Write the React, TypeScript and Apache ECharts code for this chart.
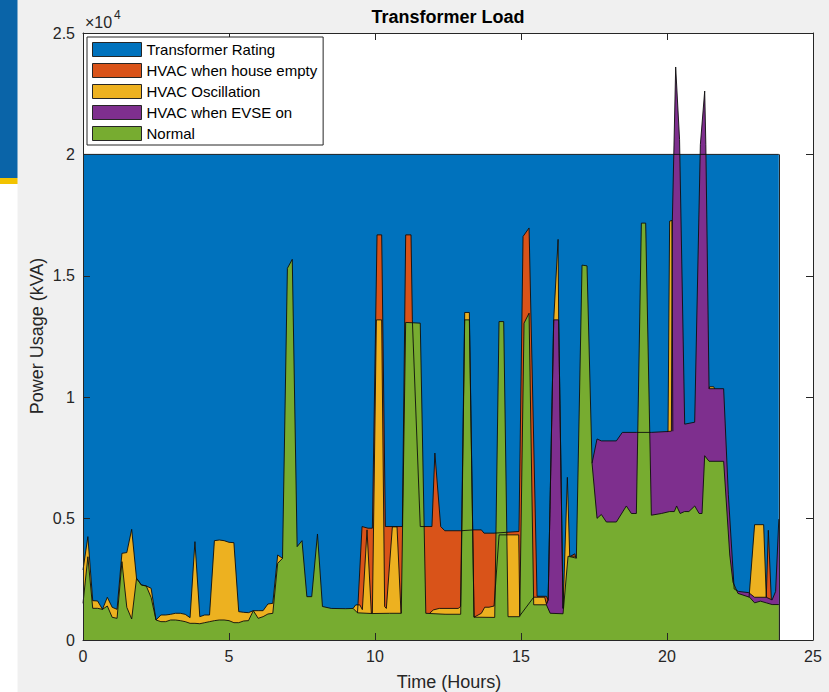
import React, { useEffect, useRef } from "react";
import * as echarts from "echarts";

type Pt = [number, number] | null;

// Series names & colours (legend order)
const seriesNames = [
  "Transformer Rating",
  "HVAC when house empty",
  "HVAC Oscillation",
  "HVAC when EVSE on",
  "Normal",
];
const seriesColors = ["#0072BD", "#D95319", "#EDB120", "#7E2F8E", "#77AC30"];

// Axis ticks
const xMin = 0, xMax = 25, xStep = 5;
const yMin = 0, yMax = 25000, yStep = 5000;
const yScale = 10000; // tick labels are shown in units of 10^4

// [time (hours), power (kVA)]; null separates segments
const ratingData: Pt[] = [[0, 20000], [23.83, 20000]];

const emptyData: Pt[] = [
  [9.4, 1120], [9.419, 1500], [9.556, 4673], [9.761, 4604], [9.91, 4604], [10.07, 16686], [10.229, 16686],
  [10.355, 4673], [10.937, 4673], [11.051, 16686], [11.234, 16686], [11.279, 13185], [11.55, 4673], [11.95, 4673],
  [12.05, 7700], [12.25, 4673], [12.39, 4500], [12.935, 4500], [13.392, 4535], [13.643, 4535], [13.735, 4400],
  [14.077, 4400], [14.93, 4470], [15.07, 16620], [15.276, 16970], [15.55, 1800], [15.87, 1800], [15.93, 1650],
  null,
  [16.7, 3450], [16.84, 3550], [16.88, 3400],
  null,
  [23.4, 1760], [23.47, 4520], [23.573, 1660],
];

const oscData: Pt[] = [
  [0, 2884], [0.167, 4257], [0.333, 1620], [0.5, 1607], [0.667, 1263], [0.833, 1760], [1, 1346], [1.167, 1263],
  [1.333, 3570], [1.5, 3600], [1.667, 4559], [1.833, 2540], [2, 2266], [2.167, 2225], [2.333, 2130], [2.5, 824],
  [2.667, 1030], [2.833, 1030], [3, 1057], [3.167, 1100], [3.333, 1100], [3.5, 1057], [3.667, 920], [3.833, 4050],
  [4, 960], [4.167, 1030], [4.333, 1030], [4.5, 4091], [4.667, 4118], [4.833, 4091], [5, 4023], [5.167, 4009],
  [5.333, 1167], [5.5, 1140], [5.667, 1126], [5.833, 1208], [6, 1208], [6.167, 1208], [6.333, 1483], [6.5, 1510],
  [6.667, 3500], [6.833, 3364],
  null,
  [9.25, 1300], [9.34, 1446], [9.48, 1446], [9.567, 1250], [9.727, 4535], [9.875, 1103], [9.91, 1103],
  [10.047, 13185], [10.229, 13185], [10.33, 1377], [10.389, 1300], [10.594, 4660], [10.754, 4660], [10.891, 1100],
  null,
  [11.87, 1100], [12, 1240], [12.2, 1300], [12.85, 1300], [12.93, 1380], [13.072, 13490], [13.232, 13490],
  [13.392, 940], [13.643, 1100], [13.757, 1350], [13.906, 1350], [14.077, 1400], [14.25, 4330], [14.922, 4330],
  [14.96, 1000], [15.435, 1762], [15.812, 1762], [15.869, 1490], [15.93, 1650], [16.12, 13185], [16.27, 16500],
  [16.29, 13185], [16.44, 1300], [16.588, 6700], [16.668, 3450], [16.84, 3450], [16.9, 3370],
  null,
  [19.98, 8585], [20.035, 8585], [20.09, 17250], [20.17, 17280], [20.2, 8600],
  null,
  [21.44, 10350], [21.46, 10430], [21.6, 10430], [21.63, 10350],
  null,
  [22.81, 1760], [23, 4750], [23.31, 4750], [23.4, 1760],
];

const evseData: Pt[] = [
  [15.87, 1450], [15.93, 1650], [16.12, 13185], [16.29, 13185], [16.44, 1300], [16.46, 1300],
  null,
  [17.433, 7280], [17.604, 8280], [17.752, 8200], [18.266, 8200], [18.47, 8550], [18.951, 8550], [19.464, 8550],
  [19.98, 8585], [20.15, 8600], [20.183, 17250], [20.297, 23600], [20.43, 20620], [20.606, 8890], [20.948, 8970],
  [21.142, 20400], [21.291, 22610], [21.33, 20400], [21.44, 10350], [21.94, 10350], [22.1, 6000], [22.3, 2100],
  [22.45, 2000], [22.8, 1950], [23, 1760], [23.4, 1760], [23.6, 1650], [23.72, 2000], [23.83, 4980],
];

const normalData: Pt[] = [
  [0, 1510], [0.167, 3430], [0.333, 1305], [0.5, 1305], [0.667, 1263], [0.833, 1400], [1, 934], [1.167, 893],
  [1.333, 3227], [1.5, 1346], [1.667, 865], [1.833, 2540], [2, 2266], [2.167, 2225], [2.333, 1750], [2.5, 824],
  [2.667, 756], [2.833, 756], [3, 824], [3.167, 824], [3.333, 797], [3.5, 756], [3.667, 687], [3.833, 687],
  [4, 670], [4.167, 714], [4.333, 755], [4.5, 797], [4.667, 824], [4.833, 824], [5, 797], [5.167, 714],
  [5.333, 714], [5.5, 783], [5.667, 797], [5.833, 1208], [6, 893], [6.167, 961], [6.333, 1071], [6.5, 1098],
  [6.667, 3158], [6.833, 3364], [7, 15309], [7.167, 15680], [7.333, 3844], [7.5, 4091], [7.667, 1785],
  [7.833, 1785], [8.03, 4366], [8.2, 1380], [8.5, 1300], [9, 1290], [9.25, 1300], [9.4, 1120], [9.9, 1090],
  [10.5, 1100], [10.9, 1100], [11.05, 13080], [11.55, 13050], [11.74, 1100], [12.4, 1060], [12.935, 1060],
  [13.072, 13185], [13.232, 13185], [13.392, 940], [14.1, 930], [14.248, 13115], [14.408, 13115], [14.556, 960],
  [14.956, 960], [15.104, 13050], [15.276, 13460], [15.435, 1450], [15.87, 1450], [16, 1100], [16.44, 1080],
  [16.611, 3450], [16.896, 3370], [17.09, 15440], [17.261, 15410], [17.433, 7280], [17.604, 5010], [17.752, 5170],
  [17.923, 4860], [18.266, 4860], [18.608, 5520], [18.78, 5210], [18.951, 5210], [19.122, 17170], [19.27, 17170],
  [19.464, 5140], [19.807, 5210], [20.092, 5290], [20.25, 5290], [20.33, 5520], [20.45, 5210], [20.6, 5290],
  [20.75, 5290], [20.95, 5520], [21.1, 5210], [21.2, 5210], [21.29, 7590], [21.44, 7360], [21.94, 7360],
  [22.15, 3500], [22.26, 2380], [22.43, 1920], [22.83, 1760], [23, 1530], [23.2, 1600], [23.4, 1530],
  [23.6, 1460], [23.83, 1460],
];

const FONT = "'Liberation Sans', Arial, Helvetica, sans-serif";
const AXIS_COLOR = "#262626";
const EDGE_COLOR = "#0d0d0d";
const EDGE_WIDTH = 1;

function toData(pts: Pt[]) {
  const out: any[] = [];
  let lastX = 0;
  for (const p of pts) {
    if (p === null) {
      out.push([lastX, "-"]);
    } else {
      out.push([p[0], p[1]]);
      lastX = p[0];
    }
  }
  return out;
}

function areaSeries(name: string, color: string, pts: Pt[], extra: any = {}) {
  return {
    type: "line",
    name,
    data: toData(pts),
    xAxisIndex: 0,
    yAxisIndex: 0,
    symbol: "none",
    showSymbol: false,
    connectNulls: false,
    smooth: false,
    silent: true,
    z: 2,
    lineStyle: { color: EDGE_COLOR, width: EDGE_WIDTH, opacity: 0.9 },
    itemStyle: { color },
    areaStyle: { color, opacity: 1 },
    emphasis: { disabled: true },
    ...extra,
  };
}

function axisCommon(show: boolean) {
  return {
    axisLine: { show: true, onZero: false, lineStyle: { color: AXIS_COLOR, width: 1 } },
    axisTick: { show: true, inside: true, length: 7, lineStyle: { color: AXIS_COLOR, width: 1 } },
    splitLine: { show: false },
    z: 10,
    axisLabel: show
      ? { show: true, color: AXIS_COLOR, fontSize: 16, fontFamily: FONT, margin: 8 }
      : { show: false },
  };
}

export default function App() {
  const ref = useRef<HTMLDivElement>(null);

  useEffect(() => {
    document.body.style.margin = "0";
    if (!ref.current) return;
    const chart = echarts.init(ref.current, undefined, { renderer: "svg" });

    const option: any = {
      animation: false,
      backgroundColor: "#f0f0f0",
      grid: {
        show: true,
        left: 83,
        right: 16,
        top: 33,
        bottom: 52,
        backgroundColor: "#ffffff",
        borderWidth: 0,
        containLabel: false,
      },
      xAxis: [
        { type: "value", position: "bottom", min: xMin, max: xMax, interval: xStep, ...axisCommon(true) },
        { type: "value", position: "top", min: xMin, max: xMax, interval: xStep, ...axisCommon(false) },
      ],
      yAxis: [
        {
          type: "value",
          position: "left",
          min: yMin,
          max: yMax,
          interval: yStep,
          ...axisCommon(true),
          axisLabel: {
            show: true,
            color: AXIS_COLOR,
            fontSize: 16,
            fontFamily: FONT,
            margin: 8,
            formatter: (v: number) => String(v / yScale),
          },
        },
        { type: "value", position: "right", min: yMin, max: yMax, interval: yStep, ...axisCommon(false) },
      ],
      legend: {
        left: 87,
        top: 37,
        orient: "vertical",
        itemWidth: 49,
        itemHeight: 14,
        itemGap: 6,
        padding: [5, 6, 4, 5],
        backgroundColor: "#ffffff",
        borderColor: AXIS_COLOR,
        borderWidth: 1,
        borderRadius: 0,
        selectedMode: false,
        icon: "rect",
        z: 20,
        textStyle: { fontSize: 15, color: "#000000", fontFamily: FONT },
        data: seriesNames.map((n, i) => ({
          name: n,
          icon: "rect",
          itemStyle: { color: seriesColors[i], borderColor: AXIS_COLOR, borderWidth: 1 },
        })),
      },
      series: [
        areaSeries(seriesNames[0], seriesColors[0], ratingData, {
          markLine: {
            silent: true,
            symbol: ["none", "none"],
            label: { show: false },
            lineStyle: { color: EDGE_COLOR, width: EDGE_WIDTH, type: "solid", opacity: 0.9 },
            emphasis: { disabled: true },
            data: [
              [
                { coord: [ratingData[1]![0], 0] },
                { coord: [ratingData[1]![0], ratingData[1]![1]] },
              ],
            ],
          },
        }),
        areaSeries(seriesNames[1], seriesColors[1], emptyData),
        areaSeries(seriesNames[2], seriesColors[2], oscData),
        areaSeries(seriesNames[3], seriesColors[3], evseData),
        areaSeries(seriesNames[4], seriesColors[4], normalData),
      ],
      graphic: [
        { type: "rect", shape: { x: 0, y: 0, width: 17.5, height: 178 }, style: { fill: "#0a64a8" }, silent: true },
        { type: "rect", shape: { x: 0, y: 178, width: 17.5, height: 6 }, style: { fill: "#f2c300" }, silent: true },
        { type: "rect", shape: { x: 0, y: 184, width: 17.5, height: 508 }, style: { fill: "#ffffff" }, silent: true },
        {
          type: "text",
          x: 448,
          y: 17,
          silent: true,
          style: {
            text: "Transformer Load",
            font: `bold 18px ${FONT}`,
            fill: "#000000",
            align: "center",
            verticalAlign: "middle",
          },
        },
        {
          type: "text",
          x: 449,
          y: 682,
          silent: true,
          style: {
            text: "Time (Hours)",
            font: `18px ${FONT}`,
            fill: AXIS_COLOR,
            align: "center",
            verticalAlign: "middle",
          },
        },
        {
          type: "text",
          x: 37,
          y: 336,
          rotation: Math.PI / 2,
          silent: true,
          style: {
            text: "Power Usage (kVA)",
            font: `18px ${FONT}`,
            fill: AXIS_COLOR,
            align: "center",
            verticalAlign: "middle",
          },
        },
        {
          type: "text",
          x: 85,
          y: 22,
          silent: true,
          style: { text: "×10", font: `16px ${FONT}`, fill: AXIS_COLOR, align: "left", verticalAlign: "middle" },
        },
        {
          type: "text",
          x: 114,
          y: 15,
          silent: true,
          style: { text: "4", font: `12px ${FONT}`, fill: AXIS_COLOR, align: "left", verticalAlign: "middle" },
        },
      ],
    };

    chart.setOption(option);
    return () => {
      chart.dispose();
    };
  }, []);

  return <div ref={ref} style={{ width: 829, height: 692 }} />;
}
